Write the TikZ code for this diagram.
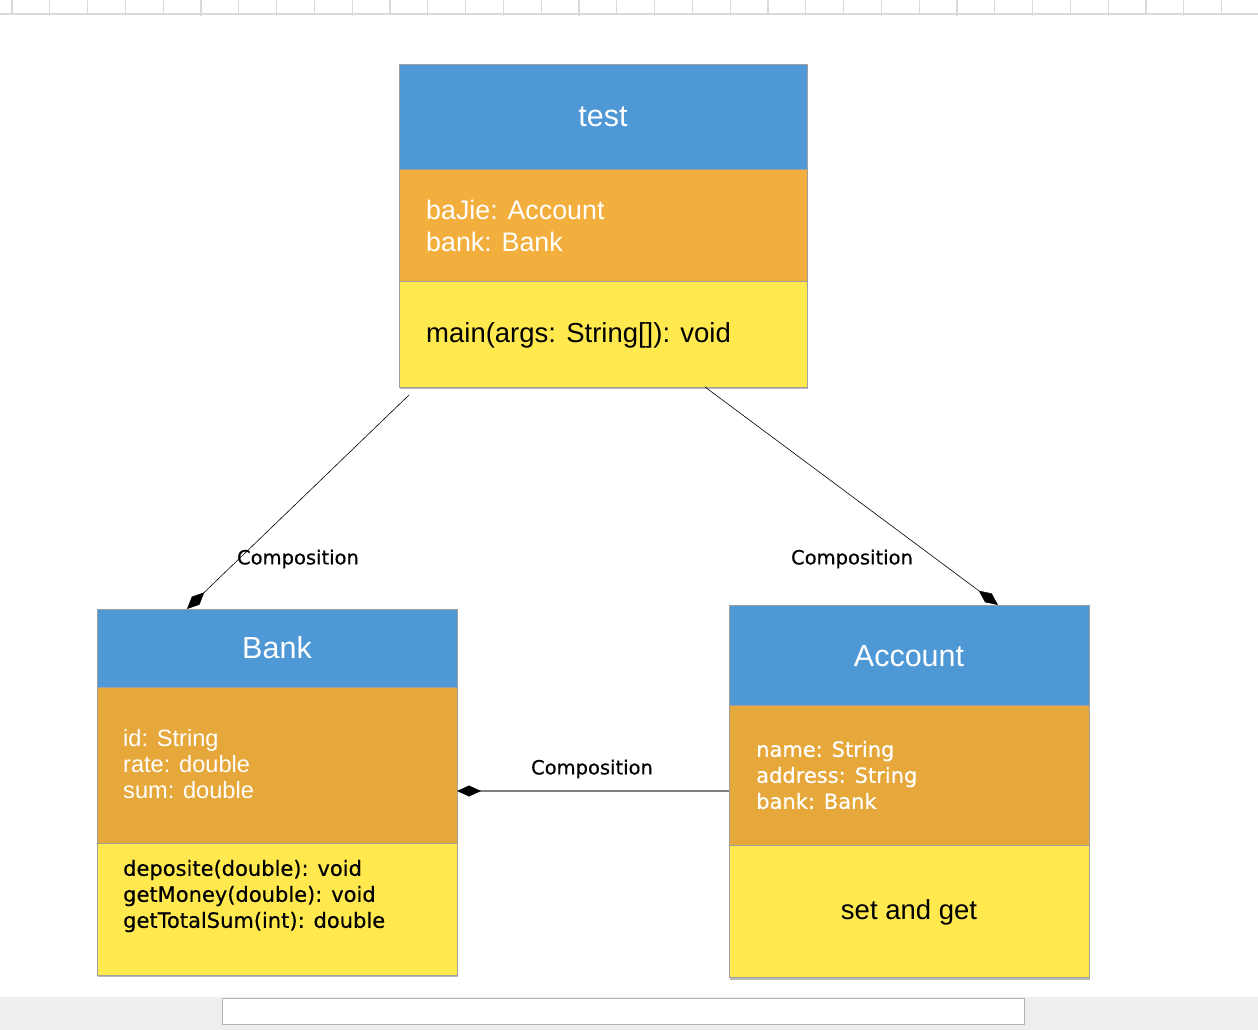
\documentclass[tikz,border=0pt]{standalone}
\usepackage{fontspec}
\setmainfont{Liberation Sans}
\newfontfamily\lucida[FakeBold=0.5]{DejaVu Sans}
\usetikzlibrary{arrows.meta}
\definecolor{hdrblue}{RGB}{78,152,213}
\definecolor{testorange}{RGB}{242,175,62}
\definecolor{attorange}{RGB}{230,167,59}
\definecolor{methyellow}{RGB}{255,233,79}
\definecolor{boxgray}{RGB}{160,160,160}
\definecolor{rulergray}{RGB}{218,218,218}
\definecolor{bandgray}{RGB}{238,238,238}
\definecolor{linkgray}{RGB}{128,128,128}
\begin{document}
\begin{tikzpicture}[x=1pt,y=-1pt,
  part/.style={draw=boxgray, line width=1pt, inner sep=0pt, outer sep=0pt, anchor=north west},
  titletext/.style={text=white, font=\fontsize{30.5}{36}\selectfont, inner sep=0pt},
  helvtext/.style={anchor=west, align=left, inner sep=0pt},
  luctext/.style={anchor=west, align=left, inner sep=0pt, font=\lucida\fontsize{21}{26}\selectfont},
  linklabel/.style={font=\lucida\fontsize{19.5}{24}\selectfont, inner sep=0pt},
  comp/.style={-{Diamond[length=24pt,width=11pt,color=black,fill=black]}},
  shadowbar/.style={fill=black!28}
]
\useasboundingbox (0,0) rectangle (1258,1030);
\fill[white] (0,0) rectangle (1258,1030);

% ruler
\draw[rulergray, line width=1.5pt] (0,14) -- (1258,14);
\foreach \i in {0,...,33} {
  \pgfmathsetmacro\xx{12+37.8*\i}
  \ifodd\i
    \draw[rulergray, line width=1.3pt] (\xx,0) -- (\xx,16.5);
  \else
    \draw[rulergray, line width=1.3pt] (\xx,0) -- (\xx,14);
  \fi
}

% bottom scroll band
\fill[bandgray] (0,997) rectangle (1258,1030);
\draw[boxgray!80, fill=white, line width=1pt] (222,998) rectangle (1024,1024);

% shadows
\fill[shadowbar] (400,387) rectangle (808,389);
\fill[shadowbar] (98,975) rectangle (458,977);
\fill[shadowbar] (730,977) rectangle (1090,979.5);

% test class
\node[part, fill=hdrblue, minimum width=408pt, minimum height=104pt] (testhead) at (399,65) {};
\node[part, fill=testorange, minimum width=408pt, minimum height=112pt] (testattr) at (399,169) {};
\node[part, fill=methyellow, minimum width=408pt, minimum height=106pt] (testmeth) at (399,281) {};
\node[titletext] (testname) at (603,117) {test};
\node[helvtext, text=white, font=\fontsize{26.8}{32}\selectfont] (testattrtext) at (426,226) {baJie: Account\\bank: Bank};
\node[helvtext, text=black, font=\fontsize{27.5}{32}\selectfont] (testmethtext) at (426,335) {main(args: String[]): void};

% Bank class
\node[part, fill=hdrblue, minimum width=360pt, minimum height=78pt] (bankhead) at (97,609) {};
\node[part, fill=attorange, minimum width=360pt, minimum height=156pt] (bankattr) at (97,687) {};
\node[part, fill=methyellow, minimum width=360pt, minimum height=132pt] (bankmeth) at (97,843) {};
\node[titletext] (bankname) at (277,648) {Bank};
\node[helvtext, text=white, font=\fontsize{23.6}{26}\selectfont] (bankattrtext) at (123,764) {id: String\\rate: double\\sum: double};
\node[luctext, text=black] (bankmethtext) at (123,896) {deposite(double): void\\getMoney(double): void\\getTotalSum(int): double};

% Account class
\node[part, fill=hdrblue, minimum width=360pt, minimum height=100pt] (acchead) at (729,605) {};
\node[part, fill=attorange, minimum width=360pt, minimum height=140pt] (accattr) at (729,705) {};
\node[part, fill=methyellow, minimum width=360pt, minimum height=132pt] (accmeth) at (729,845) {};
\node[titletext] (accname) at (909,656) {Account};
\node[luctext, text=white] (accattrtext) at (756,775) {name: String\\address: String\\bank: Bank};
\node[text=black, font=\fontsize{27.5}{32}\selectfont, inner sep=0pt] (accmethtext) at (909,912) {set and get};

% connectors
\coordinate (tlstart) at (409,395);
\coordinate (trstart) at (705,387);
\coordinate (bankend) at (187,609);
\coordinate (accend) at (998,605);
\coordinate (accleft) at (accattr.west |- 0,791);
\coordinate (bankright) at (bankattr.east |- 0,791);
\draw[comp, line width=0.6pt] (tlstart) -- (bankend);
\draw[comp, line width=0.6pt] (trstart) -- (accend);
\draw[comp, linkgray, line width=1.5pt] (accleft) -- (bankright);

\node[linklabel] (lab1) at (298,559) {Composition};
\node[linklabel] (lab2) at (852,559) {Composition};
\node[linklabel] (lab3) at (592,769) {Composition};
\end{tikzpicture}
\end{document}
